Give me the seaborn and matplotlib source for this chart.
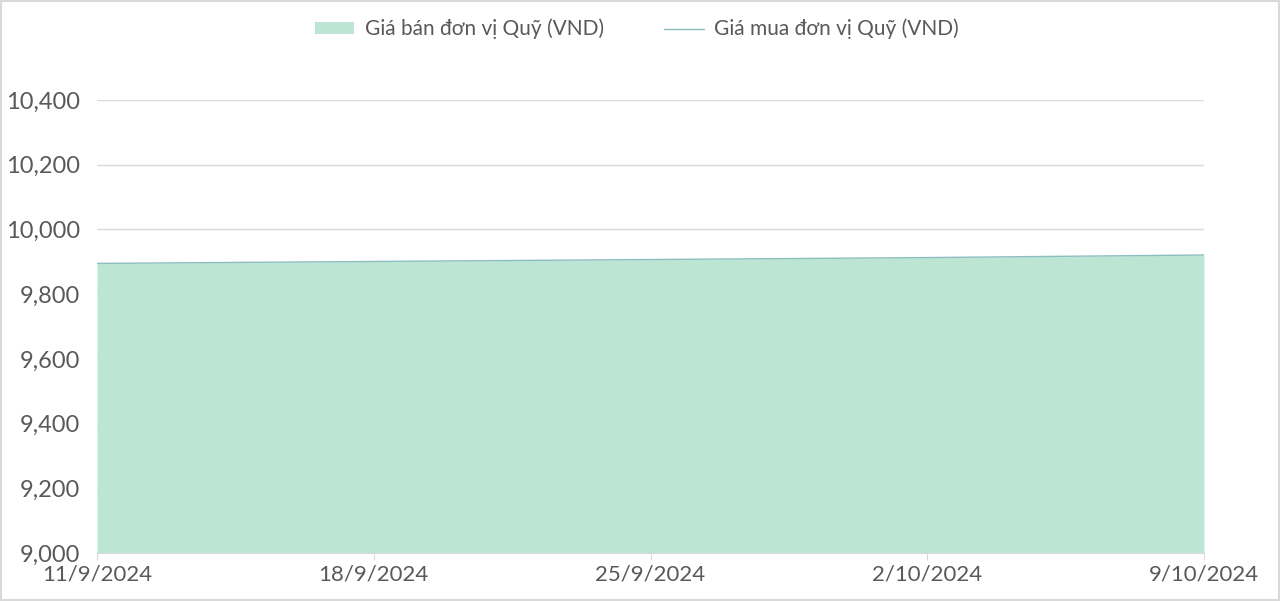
import pandas as pd
import seaborn as sns
import matplotlib.pyplot as plt
from matplotlib.patches import Patch
from matplotlib.lines import Line2D

ngay = ['11/9/2024', '18/9/2024', '25/9/2024', '2/10/2024', '9/10/2024']
gia_ban = [9895, 9901, 9907, 9913, 9921]
gia_mua = [9895, 9901, 9907, 9913, 9921]

df = pd.DataFrame({
    'ngay': pd.to_datetime(ngay, format='%d/%m/%Y'),
    'gia_ban': gia_ban,
    'gia_mua': gia_mua,
})

sns.set_style('white')
plt.rcParams['font.family'] = ['Lato', 'DejaVu Sans']

mau_chu = '#595959'
mau_nen = '#BDE5D4'
mau_duong = '#8CBDC0'

fig = plt.figure(figsize=(12.8, 6.01), dpi=100)
ax = fig.add_axes([97 / 1280, 48 / 601, 1107 / 1280, 453 / 601])

ax.fill_between(df['ngay'], 9000, df['gia_ban'], color=mau_nen, linewidth=0, zorder=2)
sns.lineplot(data=df, x='ngay', y='gia_mua', color=mau_duong, linewidth=1, ax=ax, zorder=3)

ax.set_xlim(df['ngay'].iloc[0], df['ngay'].iloc[-1])
ax.set_ylim(9000, 10400)
ax.set_yticks(range(9000, 10401, 200))
ax.set_yticklabels([f'{v:,}' for v in range(9000, 10401, 200)])
ax.set_xticks(df['ngay'])
ax.set_xticklabels(ngay)
ax.set_xlabel('')
ax.set_ylabel('')

ax.grid(axis='y', color='#D9D9D9', linewidth=1, zorder=1)
for s in ['top', 'right', 'left']:
    ax.spines[s].set_visible(False)
ax.spines['bottom'].set_color('#D9D9D9')
ax.tick_params(axis='x', length=5, color='#D9D9D9', colors=mau_chu, labelsize=16, pad=3, bottom=True)
ax.tick_params(axis='y', length=0, colors=mau_chu, labelsize=17, pad=12)

handles = [
    Patch(facecolor=mau_nen, edgecolor='none'),
    Line2D([], [], color=mau_duong, linewidth=1),
]
fig.legend(handles, ['Giá bán đơn vị Quỹ (VND)', 'Giá mua đơn vị Quỹ (VND)'],
           loc='center', bbox_to_anchor=(637 / 1280, 1 - 29 / 601), ncol=2,
           frameon=False, fontsize=15, labelcolor=mau_chu, handlelength=1.9,
           handleheight=0.5, columnspacing=2.9, handletextpad=0.5)

fig.patches.append(plt.Rectangle((0.001, 0.001), 0.998, 0.997, transform=fig.transFigure,
                                 fill=False, edgecolor='#D9D9D9', linewidth=1.5))

fig.savefig('out.png', dpi=100)
